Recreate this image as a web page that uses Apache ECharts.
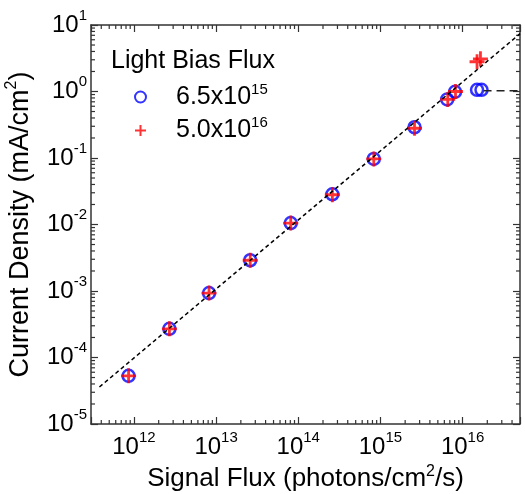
<!DOCTYPE html>
<html>
<head>
<meta charset="utf-8">
<script src="https://cdn.jsdelivr.net/npm/echarts@6/dist/echarts.min.js"></script>
<style>
  html, body { margin: 0; padding: 0; background: #fff; }
  #chart { width: 525px; height: 494px; }
</style>
</head>
<body>
<div id="chart"></div>
<script>
// signal flux (photons/cm2/s) and current density (mA/cm2)
const fluxLow = [8.6e11, 2.7e12, 8.2e12, 2.6e13, 8.1e13, 2.6e14, 8.3e14, 2.6e15, 6.5e15, 8.1e15, 1.5e16, 1.7e16];
const jLow = [5.3e-5, 2.7e-4, 9.3e-4, 2.9e-3, 1.05e-2, 2.85e-2, 0.097, 0.29, 0.76, 0.99, 1.06, 1.06];
const fluxHigh = [8.6e11, 2.7e12, 8.2e12, 2.6e13, 8.1e13, 2.6e14, 8.3e14, 2.6e15, 6.6e15, 8.2e15, 1.5e16, 1.65e16];
const jHigh = [5.3e-5, 2.7e-4, 9.3e-4, 2.9e-3, 1.05e-2, 2.8e-2, 0.097, 0.28, 0.76, 1.0, 2.8, 3.1];
// guide lines
const fitLine = [[3.8e11, 3.6e-5], [5e16, 7.4]];
const satLine = [[1.8e16, 1.03], [5e16, 1.03]];

const xRange = [3e11, 5e16];
const yRange = [1e-5, 10];
const decadesX = [11, 12, 13, 14, 15, 16];
const decadesY = [-5, -4, -3, -2, -1, 0];
const minorMult = [2, 3, 4, 5, 6, 7, 8, 9];

const seriesNames = ['6.5x10^15', '5.0x10^16'];
const FONT = 'Liberation Sans, Arial, sans-serif';

let minorTicks = [];
decadesX.forEach(d => minorMult.forEach(m => {
  let v = m * Math.pow(10, d);
  if (v > xRange[0] && v < xRange[1]) minorTicks.push([v, yRange[0], 0]);
}));
decadesY.forEach(d => minorMult.forEach(m => {
  let v = m * Math.pow(10, d);
  if (v > yRange[0] && v < yRange[1]) minorTicks.push([xRange[0], v, 1]);
}));

function pow10Label(value) {
  let e = Math.log10(value);
  if (Math.abs(e - Math.round(e)) > 1e-6) return '';
  return '{b|10}{s|' + Math.round(e) + '}';
}

const labelRich = {
  b: { fontSize: 24, fontFamily: FONT, color: '#000', lineHeight: 34 },
  s: { fontSize: 15, fontFamily: FONT, color: '#000', lineHeight: 14, verticalAlign: 'top' }
};

const axisLine = { show: true, lineStyle: { color: '#333', width: 1.5 } };
const axisTick = { show: true, inside: true, length: 7, lineStyle: { color: '#333', width: 1.2 } };

let chart = echarts.init(document.getElementById('chart'));

let option = {
  animation: false,
  backgroundColor: '#fff',
  title: {
    text: 'Light Bias Flux',
    left: 106,
    top: 44,
    textStyle: { fontFamily: FONT, fontSize: 25, fontWeight: 'normal', color: '#000' }
  },
  legend: {
    orient: 'vertical',
    left: 129,
    top: 77,
    itemWidth: 11,
    itemHeight: 11,
    itemGap: 6,
    data: seriesNames,
    formatter: function (name) {
      let p = name.split('^');
      return '{b|' + p[0] + '}{s|' + p[1] + '}';
    },
    textStyle: {
      padding: [0, 0, 0, 25],
      rich: {
        b: { fontSize: 25, fontFamily: FONT, color: '#000', lineHeight: 30 },
        s: { fontSize: 15, fontFamily: FONT, color: '#000', lineHeight: 14, verticalAlign: 'top' }
      }
    }
  },
  grid: { left: 91, right: 5, top: 25, bottom: 70, outerBoundsMode: 'none' },
  xAxis: [{
    type: 'log',
    min: xRange[0],
    max: xRange[1],
    position: 'bottom',
    name: 'Signal Flux (photons/cm{s|2}/s)',
    nameLocation: 'middle',
    nameGap: 31,
    nameTextStyle: {
      rich: {
        s: { fontSize: 16, fontFamily: FONT, color: '#000', lineHeight: 15, verticalAlign: 'top' }
      },
      fontSize: 26, fontFamily: FONT, color: '#000', lineHeight: 30
    },
    axisLine: axisLine,
    axisTick: axisTick,
    splitLine: { show: false },
    axisLabel: { margin: 6, formatter: pow10Label, rich: labelRich }
  }, {
    type: 'log',
    min: xRange[0],
    max: xRange[1],
    position: 'top',
    axisLine: axisLine,
    axisTick: axisTick,
    splitLine: { show: false },
    axisLabel: { show: false }
  }],
  yAxis: [{
    type: 'log',
    min: yRange[0],
    max: yRange[1],
    position: 'left',
    name: 'Current Density (mA/cm{s|2})',
    nameLocation: 'middle',
    nameGap: 46,
    nameTextStyle: {
      rich: {
        s: { fontSize: 16, fontFamily: FONT, color: '#000', lineHeight: 16, verticalAlign: 'top' }
      },
      fontSize: 27, fontFamily: FONT, color: '#000', lineHeight: 32
    },
    axisLine: axisLine,
    axisTick: axisTick,
    splitLine: { show: false },
    axisLabel: { margin: 4, formatter: pow10Label, rich: labelRich }
  }, {
    type: 'log',
    min: yRange[0],
    max: yRange[1],
    position: 'right',
    axisLine: axisLine,
    axisTick: axisTick,
    splitLine: { show: false },
    axisLabel: { show: false }
  }],
  series: [
    {
      // log minor ticks on all four sides
      type: 'custom',
      silent: true,
      clip: false,
      data: minorTicks,
      renderItem: function (params, api) {
        let st = { stroke: '#333', lineWidth: 1.2 };
        let len = 4;
        if (api.value(2) === 0) {
          let b = api.coord([api.value(0), yRange[0]]);
          let t = api.coord([api.value(0), yRange[1]]);
          return { type: 'group', children: [
            { type: 'line', shape: { x1: b[0], y1: b[1], x2: b[0], y2: b[1] - len }, style: st },
            { type: 'line', shape: { x1: t[0], y1: t[1], x2: t[0], y2: t[1] + len }, style: st }
          ] };
        }
        let l = api.coord([xRange[0], api.value(1)]);
        let r = api.coord([xRange[1], api.value(1)]);
        return { type: 'group', children: [
          { type: 'line', shape: { x1: l[0], y1: l[1], x2: l[0] + len, y2: l[1] }, style: st },
          { type: 'line', shape: { x1: r[0], y1: r[1], x2: r[0] - len, y2: r[1] }, style: st }
        ] };
      }
    },
    {
      type: 'line',
      data: fitLine,
      symbol: 'none',
      silent: true,
      lineStyle: { color: '#000', width: 1.5, type: [4, 3] }
    },
    {
      type: 'line',
      data: satLine,
      symbol: 'none',
      silent: true,
      lineStyle: { color: '#222', width: 1.5, type: [8, 5] }
    },
    {
      name: seriesNames[0],
      type: 'scatter',
      symbol: 'circle',
      symbolSize: 12,
      itemStyle: { color: 'rgba(0,0,0,0)', borderColor: '#0000ff', borderWidth: 2.5 },
      emphasis: { disabled: true },
      data: fluxLow.map((x, i) => [x, jLow[i]])
    },
    {
      name: seriesNames[1],
      type: 'scatter',
      symbol: 'path://M0,5L10,5M5,0L5,10',
      symbolSize: 15,
      itemStyle: { color: 'rgba(0,0,0,0)', borderColor: '#ff0000', borderWidth: 2.8 },
      emphasis: { disabled: true },
      data: fluxHigh.map((x, i) => [x, jHigh[i]])
    }
  ]
};

chart.setOption(option);
</script>
</body>
</html>
